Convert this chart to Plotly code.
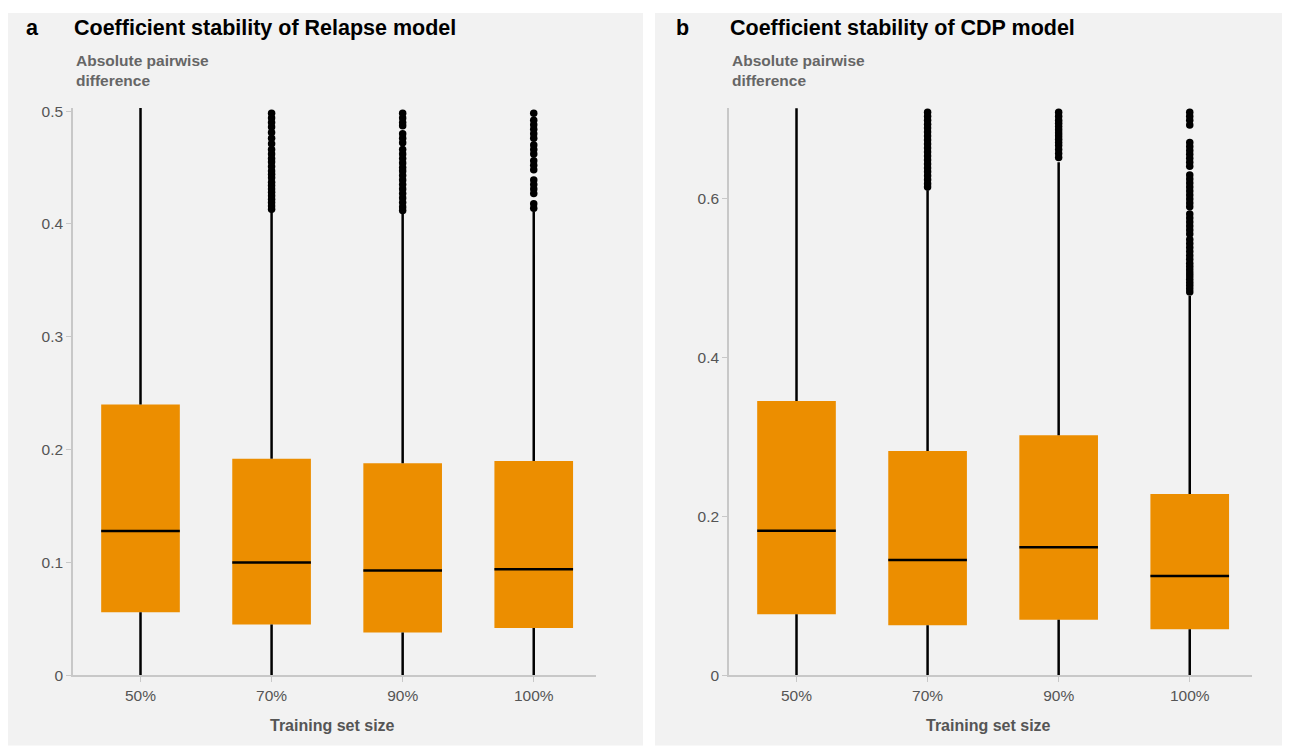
import plotly.graph_objects as go

# ---------------- data ----------------
categories = ["50%", "70%", "90%", "100%"]

# Panel a: Relapse model
a_q1 = [0.056, 0.045, 0.038, 0.042]
a_median = [0.128, 0.100, 0.093, 0.094]
a_q3 = [0.240, 0.192, 0.188, 0.190]
a_low = [0.0, 0.0, 0.0, 0.0]
a_high = [0.503, 0.412, 0.410, 0.411]
a_out_70 = [0.498, 0.494, 0.490, 0.486, 0.481, 0.476, 0.471, 0.466, 0.462, 0.458,
            0.455, 0.451, 0.447, 0.444, 0.441, 0.437, 0.434, 0.431, 0.428, 0.425,
            0.422, 0.419, 0.416, 0.413]
a_out_90 = [0.498, 0.494, 0.490, 0.487, 0.480, 0.476, 0.472, 0.466, 0.462, 0.458,
            0.454, 0.450, 0.447, 0.443, 0.439, 0.435, 0.431, 0.427, 0.423, 0.419,
            0.415, 0.412]
a_out_100 = [0.498, 0.492, 0.488, 0.484, 0.480, 0.476, 0.470, 0.466, 0.462, 0.456,
             0.452, 0.448, 0.439, 0.435, 0.431, 0.427, 0.418, 0.414]
a_outliers = [[], a_out_70, a_out_90, a_out_100]

# Panel b: CDP model
b_q1 = [0.077, 0.063, 0.070, 0.058]
b_median = [0.182, 0.145, 0.161, 0.125]
b_q3 = [0.345, 0.282, 0.302, 0.228]
b_low = [0.0, 0.0, 0.0, 0.0]
b_high = [0.713, 0.610, 0.645, 0.477]
b_out_70 = [0.708, 0.703, 0.698, 0.693, 0.688, 0.683, 0.678, 0.673, 0.668, 0.663,
            0.658, 0.653, 0.648, 0.643, 0.638, 0.633, 0.628, 0.623, 0.618, 0.614]
b_out_90 = [0.708, 0.703, 0.698, 0.694, 0.690, 0.686, 0.682, 0.678, 0.674, 0.670,
            0.666, 0.661, 0.656, 0.651]
b_out_100 = [0.708, 0.703, 0.698, 0.692, 0.670, 0.665, 0.660, 0.655, 0.650, 0.645,
             0.640, 0.629, 0.624, 0.619, 0.614, 0.609, 0.604, 0.599, 0.594, 0.589,
             0.580, 0.575, 0.570, 0.565, 0.560, 0.555, 0.548, 0.543, 0.538, 0.533,
             0.528, 0.523, 0.518, 0.514, 0.510, 0.506, 0.502, 0.498, 0.494, 0.490,
             0.486, 0.482]
b_outliers = [[], b_out_70, b_out_90, b_out_100]

a_ticks = [0, 0.1, 0.2, 0.3, 0.4, 0.5]
a_ticktext = ["0", "0.1", "0.2", "0.3", "0.4", "0.5"]
b_ticks = [0, 0.2, 0.4, 0.6]
b_ticktext = ["0", "0.2", "0.4", "0.6"]

# ---------------- style ----------------
W, H = 1290, 747
ORANGE = "#EC8E00"
PANEL_BG = "#F2F2F2"
AXIS_GRAY = "#C8C8C8"
TICK_COLOR = "#555555"
TITLE_GRAY = "#666666"
FONT = "Liberation Sans, Arial, sans-serif"
BOX_W = 0.6

fig = go.Figure()


# map target screenshot pixels to paper fractions (page offset compensation)
def px_x(p):
    return max(0.0, (p - 8) / W)


def px_y(p):
    v = 1 - ((p - 13) / 0.982) / H
    return min(1.0, max(0.0, v))


def add_panel(xa, ya, q1, med, q3, lo, hi, outliers):
    idx = list(range(len(categories)))
    wx, wy = [], []
    for i in idx:
        wx += [i, i, None, i, i, None]
        wy += [lo[i], q1[i], None, q3[i], hi[i], None]
    fig.add_trace(go.Scatter(x=wx, y=wy, mode="lines", xaxis=xa, yaxis=ya,
                             line=dict(color="black", width=2.5),
                             showlegend=False, hoverinfo="skip"))
    fig.add_trace(go.Bar(x=idx, base=q1, y=[q3[i] - q1[i] for i in idx],
                         width=BOX_W, xaxis=xa, yaxis=ya,
                         marker=dict(color=ORANGE, line=dict(width=0)),
                         showlegend=False))
    mx, my = [], []
    for i in idx:
        mx += [i - BOX_W / 2, i + BOX_W / 2, None]
        my += [med[i], med[i], None]
    fig.add_trace(go.Scatter(x=mx, y=my, mode="lines", xaxis=xa, yaxis=ya,
                             line=dict(color="black", width=2.5),
                             showlegend=False, hoverinfo="skip"))
    ox, oy = [], []
    for i in idx:
        ox += [i] * len(outliers[i])
        oy += outliers[i]
    fig.add_trace(go.Scatter(x=ox, y=oy, mode="markers", xaxis=xa, yaxis=ya,
                             marker=dict(color="black", size=7.5),
                             showlegend=False))


add_panel("x", "y", a_q1, a_median, a_q3, a_low, a_high, a_outliers)
add_panel("x2", "y2", b_q1, b_median, b_q3, b_low, b_high, b_outliers)

ydom = [px_y(675), px_y(108)]
common_x = dict(range=[-0.515, 3.475], tickvals=[0, 1, 2, 3], ticktext=categories,
                showline=True, linecolor=AXIS_GRAY, linewidth=1.5,
                ticks="outside", ticklen=5, tickcolor=AXIS_GRAY,
                showgrid=False, zeroline=False,
                tickfont=dict(family=FONT, size=15.5, color=TICK_COLOR))
common_y = dict(showline=True, linecolor=AXIS_GRAY, linewidth=1.5,
                ticks="outside", ticklen=5, tickcolor=AXIS_GRAY,
                showgrid=False, zeroline=False, domain=ydom,
                tickfont=dict(family=FONT, size=15.5, color=TICK_COLOR))

fig.update_layout(
    width=W, height=H,
    margin=dict(l=0, r=0, t=0, b=0),
    paper_bgcolor="white",
    plot_bgcolor="rgba(0,0,0,0)",
    barmode="overlay",
    showlegend=False,
    xaxis=dict(domain=[px_x(73), px_x(596)], anchor="y", **common_x),
    yaxis=dict(range=[0, 0.5027], tickvals=a_ticks, ticktext=a_ticktext,
               anchor="x", **common_y),
    xaxis2=dict(domain=[px_x(729), px_x(1252)], anchor="y2", **common_x),
    yaxis2=dict(range=[0, 0.7132], tickvals=b_ticks, ticktext=b_ticktext,
                anchor="x2", **common_y),
    shapes=[
        dict(type="rect", xref="paper", yref="paper", layer="below",
             x0=px_x(6), x1=px_x(643), y0=px_y(745), y1=px_y(5),
             fillcolor=PANEL_BG, line=dict(width=0)),
        dict(type="rect", xref="paper", yref="paper", layer="below",
             x0=px_x(655), x1=px_x(1285), y0=px_y(745), y1=px_y(5),
             fillcolor=PANEL_BG, line=dict(width=0)),
    ],
)

ann = []
panels = [("a", 27, 75, 332, "Coefficient stability of Relapse model"),
          ("b", 677, 731, 988, "Coefficient stability of CDP model")]
for letter, lx, tx, cx, title in panels:
    ann.append(dict(text=f"<b>{letter}</b>", x=px_x(lx - 3), y=px_y(28),
                    xref="paper", yref="paper", xanchor="left", yanchor="middle",
                    showarrow=False,
                    font=dict(family=FONT, size=21.5, color="black")))
    ann.append(dict(text=f"<b>{title}</b>", x=px_x(tx - 3), y=px_y(28),
                    xref="paper", yref="paper", xanchor="left", yanchor="middle",
                    showarrow=False,
                    font=dict(family=FONT, size=21.5, color="black")))
    ann.append(dict(text="<b>Absolute pairwise<br>difference</b>", x=px_x(tx - 1),
                    y=px_y(70.5), xref="paper", yref="paper", xanchor="left",
                    yanchor="middle", align="left", showarrow=False,
                    font=dict(family=FONT, size=15.5, color=TITLE_GRAY)))
    ann.append(dict(text="<b>Training set size</b>", x=px_x(cx), y=px_y(725),
                    xref="paper", yref="paper", xanchor="center", yanchor="middle",
                    showarrow=False,
                    font=dict(family=FONT, size=16, color=TICK_COLOR)))
fig.update_layout(annotations=ann)

fig.write_html("out.html")
